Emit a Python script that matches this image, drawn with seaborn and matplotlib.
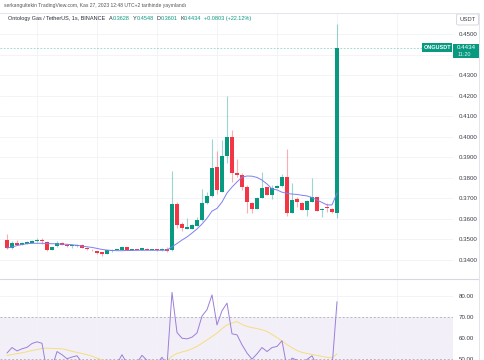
import numpy as np
import pandas as pd
import matplotlib
matplotlib.use("Agg")
import matplotlib.pyplot as plt
from matplotlib.lines import Line2D
from matplotlib.patches import Rectangle, FancyBboxPatch
import seaborn as sns

# ---------------- data ----------------
opens = [0.3498, 0.3458, 0.3482, 0.3474, 0.3479, 0.3482, 0.3490, 0.3495, 0.3487, 0.3447,
         0.3466, 0.3482, 0.3474, 0.3466, 0.3466, 0.3474, 0.3458, 0.3449, 0.3441, 0.3438,
         0.3429, 0.3441, 0.3448, 0.3448, 0.3461, 0.3448, 0.3451, 0.3448, 0.3454, 0.3448,
         0.3451, 0.3445, 0.3454, 0.3448, 0.3672, 0.3573, 0.3550, 0.3550, 0.3566, 0.3594,
         0.3678, 0.3711, 0.3851, 0.3732, 0.3906, 0.4000, 0.3822, 0.3813, 0.3753, 0.3678,
         0.3647, 0.3702, 0.3753, 0.3715, 0.3751, 0.3759, 0.3805, 0.3629, 0.3696, 0.3678,
         0.3642, 0.3683, 0.3704, 0.3641, 0.3654, 0.3647, 0.3628]
highs = [0.3526, 0.3490, 0.3495, 0.3485, 0.3489, 0.3497, 0.3506, 0.3506, 0.3489, 0.3463,
         0.3493, 0.3485, 0.3476, 0.3472, 0.3477, 0.3476, 0.3460, 0.3452, 0.3443, 0.3440,
         0.3447, 0.3450, 0.3452, 0.3464, 0.3462, 0.3452, 0.3452, 0.3459, 0.3456, 0.3454,
         0.3453, 0.3456, 0.3461, 0.3834, 0.3683, 0.3586, 0.3604, 0.3575, 0.3610, 0.3745,
         0.3732, 0.3987, 0.3930, 0.3984, 0.4198, 0.4032, 0.3893, 0.3822, 0.3764, 0.3683,
         0.3706, 0.3826, 0.3756, 0.3764, 0.3762, 0.3816, 0.3938, 0.3776, 0.3707, 0.3681,
         0.3689, 0.3800, 0.3706, 0.3650, 0.3675, 0.3650, 0.4548]
lows = [0.3453, 0.3454, 0.3470, 0.3470, 0.3476, 0.3480, 0.3488, 0.3477, 0.3443, 0.3445,
        0.3464, 0.3472, 0.3463, 0.3458, 0.3464, 0.3456, 0.3448, 0.3443, 0.3429, 0.3419,
        0.3427, 0.3438, 0.3446, 0.3447, 0.3447, 0.3447, 0.3446, 0.3447, 0.3447, 0.3446,
        0.3443, 0.3443, 0.3438, 0.3441, 0.3554, 0.3542, 0.3548, 0.3548, 0.3564, 0.3589,
        0.3672, 0.3707, 0.3721, 0.3728, 0.3870, 0.3781, 0.3805, 0.3740, 0.3626, 0.3629,
        0.3645, 0.3700, 0.3713, 0.3695, 0.3748, 0.3756, 0.3615, 0.3627, 0.3656, 0.3640,
        0.3615, 0.3681, 0.3637, 0.3607, 0.3631, 0.3628, 0.3601]
closes = [0.3458, 0.3482, 0.3474, 0.3482, 0.3487, 0.3493, 0.3495, 0.3492, 0.3445, 0.3461,
          0.3482, 0.3474, 0.3466, 0.3469, 0.3474, 0.3458, 0.3451, 0.3445, 0.3432, 0.3429,
          0.3445, 0.3448, 0.3450, 0.3461, 0.3448, 0.3451, 0.3448, 0.3458, 0.3448, 0.3452,
          0.3445, 0.3454, 0.3441, 0.3672, 0.3570, 0.3554, 0.3561, 0.3570, 0.3594, 0.3675,
          0.3711, 0.3846, 0.3740, 0.3906, 0.3997, 0.3822, 0.3813, 0.3753, 0.3683, 0.3647,
          0.3702, 0.3751, 0.3715, 0.3751, 0.3759, 0.3805, 0.3629, 0.3691, 0.3680, 0.3642,
          0.3686, 0.3704, 0.3639, 0.3646, 0.3651, 0.3631, 0.4434]
ma_values = [0.3457, 0.3462, 0.3469, 0.3474, 0.3478, 0.3480, 0.3480, 0.3480, 0.3479, 0.3478,
             0.3477, 0.3476, 0.3475, 0.3473, 0.3470, 0.3467, 0.3463, 0.3460, 0.3455, 0.3450,
             0.3447, 0.3445, 0.3444, 0.3444, 0.3445, 0.3445, 0.3446, 0.3446, 0.3446, 0.3446,
             0.3446, 0.3446, 0.3447, 0.3463, 0.3479, 0.3496, 0.3511, 0.3530, 0.3550, 0.3574,
             0.3602, 0.3637, 0.3650, 0.3681, 0.3725, 0.3754, 0.3779, 0.3802, 0.3808, 0.3807,
             0.3801, 0.3788, 0.3769, 0.3745, 0.3740, 0.3729, 0.3723, 0.3720, 0.3718, 0.3714,
             0.3711, 0.3703, 0.3691, 0.3679, 0.3667, 0.3667, 0.3725]
rsi_values = [53.0, 55.6, 54.0, 55.0, 55.7, 57.5, 58.3, 57.6, 44.0, 46.0,
              53.7, 52.2, 50.3, 51.1, 51.7, 48.5, 46.0, 45.0, 42.0, 40.0,
              46.0, 47.5, 48.0, 52.2, 48.0, 49.0, 48.5, 51.9, 49.5, 49.5,
              48.0, 51.0, 47.0, 81.7, 62.7, 60.0, 59.7, 60.5, 62.5, 70.5,
              73.5, 80.5, 66.3, 73.0, 76.6, 62.1, 61.6, 56.9, 53.0, 50.1,
              52.6, 55.6, 53.7, 55.6, 56.1, 58.8, 46.0, 50.6, 49.6, 47.5,
              50.0, 51.7, 47.0, 47.5, 47.5, 46.0, 77.3]
rsi_ma_values = [51.8, 52.3, 52.7, 53.1, 53.6, 54.2, 54.6, 55.2, 55.3, 55.2,
                 55.1, 55.0, 54.5, 53.8, 53.3, 52.8, 52.2, 51.5, 50.6, 49.8,
                 48.5, 47.5, 47.0, 46.5, 46.5, 46.5, 46.5, 46.5, 47.0, 47.0,
                 47.5, 48.0, 49.5, 51.5, 52.8, 53.5, 54.1, 55.0, 56.1, 57.6,
                 59.2, 60.8, 62.4, 64.5, 66.3, 67.2, 67.9, 66.5, 65.6, 65.0,
                 64.6, 64.0, 63.2, 61.8, 60.3, 58.7, 57.0, 55.5, 54.2, 53.3,
                 52.8, 52.3, 51.9, 51.4, 51.0, 50.7, 52.6]
price_ticks = [0.34, 0.35, 0.36, 0.37, 0.38, 0.39, 0.40, 0.41, 0.42, 0.43, 0.44, 0.45]
hidden_price_ticks = [0.44]          # covered by the last-price label in the reference
rsi_ticks = [50, 60, 70, 80]
grid_positions = [6, 18, 30, 42, 54, 66, 78]

header_line1 = "serkangultekin TradingView.com, Kas 27, 2023 12:48 UTC+2 tarihinde yayınlandı"
header_pieces = [("Ontology Gas / TetherUS, 1s, BINANCE", "dark", 4.0),
                 ("A", "dark", 0.3), ("0.3628", "green", 2.5),
                 ("Y", "dark", 0.3), ("0.4548", "green", 2.5),
                 ("D", "dark", 0.3), ("0.3601", "green", 2.5),
                 ("K", "dark", 0.3), ("0.4434", "green", 2.5),
                 ("+0.0803 (+22.12%)", "green", 0)]
symbol_label = "ONGUSDT"
last_price_label = "0.4434"
countdown_label = "11:20"
currency_label = "USDT"

# ---------------- style ----------------
UP = "#089981"
DOWN = "#f23645"
GRID = "#f1f2f6"
TXT = "#3a3d46"
FONT = ["Liberation Sans", "DejaVu Sans"]

sns.set_style("white")
plt.rcParams["font.family"] = FONT

df = pd.DataFrame({"idx": np.arange(len(closes)), "open": opens, "high": highs,
                   "low": lows, "close": closes, "ma": ma_values,
                   "rsi": rsi_values, "rsi_ma": rsi_ma_values})
df["up"] = df["close"] >= df["open"]

W, H = 485, 360
fig = plt.figure(figsize=(W / 100, H / 100), dpi=100)
ax = fig.add_axes([0, 1 - 278 / H, 453 / W, (278 - 13) / H])
ax2 = fig.add_axes([0, 0, 453 / W, 82 / H])

for a in (ax, ax2):
    a.set_xlim(-1.4, 89.2)
    a.set_xticks(grid_positions)
    a.tick_params(axis="x", length=0, labelbottom=False)
    a.grid(True, color=GRID, lw=0.6)
    a.set_axisbelow(True)
    for s in a.spines.values():
        s.set_visible(False)
    a.yaxis.tick_right()
    a.tick_params(axis="y", length=0, pad=4, labelsize=4.4, labelcolor=TXT)

# ---- price panel ----
ax.set_ylim(0.33109, 0.46023)
ax.set_yticks(price_ticks)
ax.set_yticklabels(["" if t in hidden_price_ticks else f"{t:.4f}" for t in price_ticks])

colors = np.where(df["up"], UP, DOWN)
body_bottom = np.minimum(df["open"], df["close"])
body_h = np.maximum(np.abs(df["close"] - df["open"]), 0.00035)
ax.vlines(df["idx"], df["low"], df["high"], colors=colors, lw=0.8, alpha=0.4, zorder=2)
ax.bar(df["idx"], body_h, bottom=body_bottom, width=0.66, color=colors, lw=0, zorder=3)
sns.lineplot(data=df, x="idx", y="ma", ax=ax, color="#7d7ff2", lw=0.7, zorder=4)
ax.axhline(df["close"].iloc[-1], color=UP, lw=0.6, ls=(0, (2, 2)), alpha=0.45, zorder=1)
ax.set_xlabel("")
ax.set_ylabel("")

# ---- RSI panel ----
ax2.set_ylim(49.7, 88.5)
ax2.set_yticks(rsi_ticks)
ax2.set_yticklabels([f"{t:.2f}" for t in rsi_ticks])
ax2.axhspan(30, 70, color="#7e57c2", alpha=0.09, lw=0, zorder=0)
ax2.axhline(70, color="#b9b6c6", lw=0.7, ls=(0, (2, 2)), zorder=1)
ax2.axhline(50, color="#b9b6c6", lw=0.7, ls=(0, (2, 2)), zorder=1)
sns.lineplot(data=df, x="idx", y="rsi_ma", ax=ax2, color="#f4de7c", lw=0.7, zorder=3)
sns.lineplot(data=df, x="idx", y="rsi", ax=ax2, color="#9b7fd9", lw=0.7, zorder=4)
ax2.set_xlabel("")
ax2.set_ylabel("")

# ---- frame lines ----
line_c = "#e3e5ec"
fig.add_artist(Line2D([0, 479 / W], [1 - 13 / H, 1 - 13 / H], color=line_c, lw=0.7))
fig.add_artist(Line2D([0, 479 / W], [1 - 278.5 / H, 1 - 278.5 / H], color="#d6d8e0", lw=0.8))
fig.add_artist(Line2D([479 / W, 479 / W], [0, 1 - 13 / H], color=line_c, lw=0.7))

# ---- header ----
fig.canvas.draw()
renderer = fig.canvas.get_renderer()
t1 = fig.text(4 / W, 1 - 5.6 / H, header_line1, fontsize=5, color="#555555", va="center", ha="left")
w1 = t1.get_window_extent(renderer).width
t1.set_fontsize(5 * 186 / w1)

col_map = {"dark": "#2a2e39", "green": UP}
base = 5.0
texts = []
total = 0
for s, c, gap in header_pieces:
    t = fig.text(0, 1 - 18.4 / H, s, fontsize=base, color=col_map[c], va="center", ha="left")
    texts.append((t, gap))
    total += t.get_window_extent(renderer).width
gaps_total = sum(g for _, _, g in header_pieces)
scale = (247 - gaps_total) / total
x = 8.0
for t, gap in texts:
    t.set_fontsize(base * scale)
    w = t.get_window_extent(renderer).width
    t.set_x(x / W)
    x += w + gap

# ---- currency box ----
fig.add_artist(FancyBboxPatch((456.5 / W, 1 - 25 / H), 22 / W, 11 / H,
                              boxstyle="round,pad=0,rounding_size=0.004",
                              fc="white", ec="#d1d4dc", lw=0.6))
fig.text(467.5 / W, 1 - 19.5 / H, currency_label, fontsize=4.2, color=TXT, ha="center", va="center")

# ---- last price labels ----
fig.add_artist(Rectangle((422.5 / W, 1 - 51.5 / H), 30 / W, 8 / H, fc=UP, ec="none"))
fig.text(437.5 / W, 1 - 47.6 / H, symbol_label, fontsize=4.0, color="white", ha="center",
         va="center", weight="bold")
fig.add_artist(Rectangle((453 / W, 1 - 57.5 / H), 26 / W, 14 / H, fc=UP, ec="none"))
fig.text(457 / W, 1 - 47.6 / H, last_price_label, fontsize=4.4, color="white", ha="left", va="center")
fig.text(458 / W, 1 - 54.2 / H, countdown_label, fontsize=4.0, color="#d8f0ea", ha="left", va="center")

fig.savefig("out.png", dpi=100, facecolor="white")
